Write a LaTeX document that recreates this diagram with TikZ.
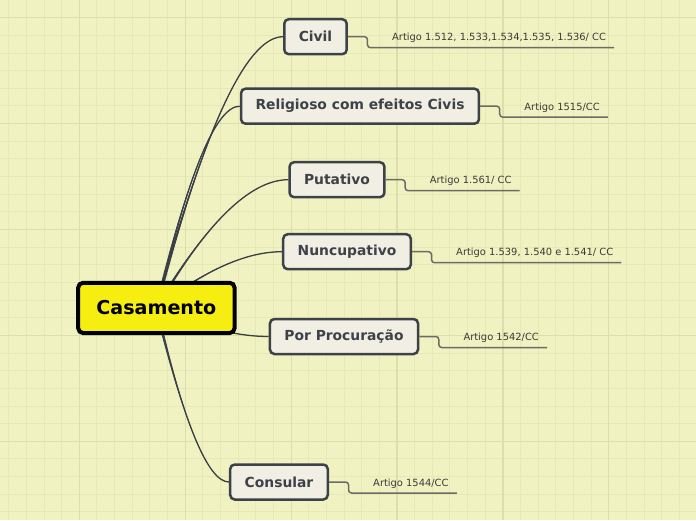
\documentclass[tikz,border=0pt]{standalone}
\usepackage{fontspec}
\setmainfont{DejaVu Sans}
\usetikzlibrary{calc,positioning,backgrounds}

\definecolor{paper}{HTML}{F0F2C1}
\definecolor{gridminor}{HTML}{E6E9B5}
\definecolor{gridmajor}{HTML}{DCDFAA}
\definecolor{rootyellow}{HTML}{F6EE10}
\definecolor{topicfill}{HTML}{F1EFE3}
\definecolor{topicline}{HTML}{3D4148}
\definecolor{branchline}{HTML}{3B3F47}
\definecolor{stemline}{HTML}{6B6C66}
\definecolor{labeltext}{HTML}{3A3A3A}

\tikzset{
  root/.style={draw=black, line width=4pt, fill=rootyellow, rounded corners=5pt,
    inner xsep=18.3pt, minimum height=50.3pt, text=black,
    font=\fontsize{19.1}{22}\selectfont\bfseries},
  topic/.style={draw=topicline, line width=2.5pt, fill=topicfill, rounded corners=4.5pt,
    inner xsep=14.5pt, minimum height=35pt, text=topicline,
    font=\fontsize{13.85}{16}\selectfont\bfseries},
  artigo/.style={inner xsep=8pt, inner ysep=0pt, anchor=base west, text=labeltext,
    font=\fontsize{9.9}{12}\selectfont},
  branch/.style={draw=branchline, line width=1.3pt},
  stem/.style={draw=stemline, line width=1.5pt, rounded corners=3pt},
  minorgrid/.style={draw=gridminor, line width=1pt},
  majorgrid/.style={draw=gridmajor, line width=1.2pt}
}

\begin{document}
\begin{tikzpicture}[x=1pt, y=-1pt]
        \useasboundingbox (0,0) rectangle (696,520);
        % Paper with grid
        \begin{scope}[on background layer]
        \fill[paper] (0,0) rectangle (696,520);
        \foreach \i in {0,...,38} {\draw[minorgrid] (8.7+17.65*\i,0) -- ++(0,520);}
        \foreach \i in {0,...,28} {\draw[minorgrid] (0,17.7+17.65*\i) -- ++(696,0);}
        \foreach \i in {0,...,5} {\draw[majorgrid] (79.3+105.9*\i,0) -- ++(0,520);}
        \foreach \i in {0,...,4} {\draw[majorgrid] (0,17.7+105.9*\i) -- ++(696,0);}
        \end{scope}
        % Central topic
        \node[root] (casamento) at (156.4,307.9) {Casamento};
        % Main topics
        \node[topic] (civil) at (315.5,36.7) {Civil};
        \node[topic] (religioso) at (360,106.2) {Religioso com efeitos Civis};
        \node[topic] (putativo) at (337,179.7) {Putativo};
        \node[topic] (nuncupativo) at (347,251.7) {Nuncupativo};
        \node[topic] (procuracao) at (344,336.5) {Por Procuração};
        \node[topic] (consular) at (279,482) {Consular};
        % Articles
        \node[artigo] (a1) at ([xshift=36pt,yshift=-4pt]civil.east) {Artigo 1.512, 1.533,1.534,1.535, 1.536/ CC};
        \node[artigo] (a2) at ([xshift=36pt,yshift=-4pt]religioso.east) {Artigo 1515/CC};
        \node[artigo] (a3) at ([xshift=36pt,yshift=-4pt]putativo.east) {Artigo 1.561/ CC};
        \node[artigo] (a4) at ([xshift=36pt,yshift=-4pt]nuncupativo.east) {Artigo 1.539, 1.540 e 1.541/ CC};
        \node[artigo] (a5) at ([xshift=36pt,yshift=-4pt]procuracao.east) {Artigo 1542/CC};
        \node[artigo] (a6) at ([xshift=36pt,yshift=-4pt]consular.east) {Artigo 1544/CC};
        \draw[stem] (civil.east) -- ++(19.5,0) |- ([yshift=-7pt]a1.base east);
        \draw[stem] (religioso.east) -- ++(19.5,0) |- ([yshift=-7pt]a2.base east);
        \draw[stem] (putativo.east) -- ++(19.5,0) |- ([yshift=-7pt]a3.base east);
        \draw[stem] (nuncupativo.east) -- ++(19.5,0) |- ([yshift=-7pt]a4.base east);
        \draw[stem] (procuracao.east) -- ++(19.5,0) |- ([yshift=-7pt]a5.base east);
        \draw[stem] (consular.east) -- ++(19.5,0) |- ([yshift=-7pt]a6.base east);
        % Branches (tapered)
        \begin{scope}[on background layer]
        \foreach \n in {civil,religioso,putativo,nuncupativo,procuracao,consular} {
          \coordinate (m) at ($(casamento.center)!.57!(\n.west)$);
          \coordinate (q) at (m |- \n.west);
          \coordinate (c1) at ($(casamento.center)!2/3!(q)$);
          \coordinate (c2) at ($(\n.west)!2/3!(q)$);
          \coordinate (s1) at ($(casamento.center)!1.6pt!90:(q)$);
          \coordinate (s2) at ($(casamento.center)!1.6pt!-90:(q)$);
          \fill[branchline] (s1) .. controls (c1) and (c2) .. (\n.west)
                                 .. controls (c2) and (c1) .. (s2) -- cycle;
          \draw[branch] (casamento.center) .. controls (c1) and (c2) .. (\n.west);
        }
        \end{scope}
\end{tikzpicture}
\end{document}
